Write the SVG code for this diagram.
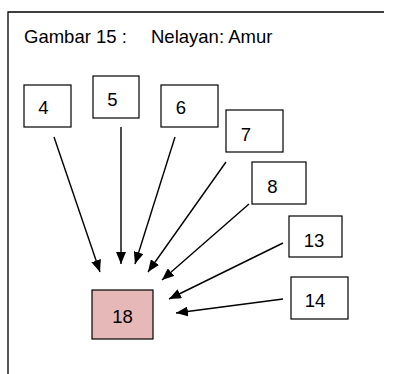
<svg xmlns="http://www.w3.org/2000/svg" width="393" height="374" viewBox="0 0 393 374">
<style>
.box{fill:#ffffff;stroke:#000000;stroke-width:1.2}
.hl{fill:#e6b8b7}
.t{font-family:"Liberation Sans",Arial,sans-serif;font-size:18.5px;fill:#000000}
.c{text-anchor:middle}
.ln{stroke:#000000;stroke-width:1.4;fill:none;marker-end:url(#ah)}
.fr{stroke:#000000;stroke-width:1.3;fill:none}
</style>
<defs>
<marker id="ah" markerUnits="userSpaceOnUse" markerWidth="12" markerHeight="10" refX="12" refY="5" orient="auto">
<path d="M0,0 L12,5 L0,10 z" fill="#000000"/>
</marker>
</defs>
<g id="frame">
<path class="fr" d="M8,374 L8,12 L384,12"/>
</g>
<g id="title">
<text class="t" x="24" y="43" font-size="20">Gambar 15 :</text>
<text class="t" x="151" y="43" font-size="20">Nelayan: Amur</text>
</g>
<g id="connectors">
<line class="ln" x1="54" y1="137" x2="100" y2="272"/>
<line class="ln" x1="121" y1="127" x2="121" y2="264"/>
<line class="ln" x1="175" y1="137" x2="135" y2="264"/>
<line class="ln" x1="226" y1="162" x2="148" y2="272"/>
<line class="ln" x1="249" y1="204" x2="162" y2="280"/>
<line class="ln" x1="283" y1="243" x2="169" y2="299"/>
<line class="ln" x1="283" y1="299" x2="176" y2="313"/>
</g>
<g id="n4"><rect class="box" x="24" y="85" width="47" height="42"/><text class="t c" x="43.5" y="114">4</text></g>
<g id="n5"><rect class="box" x="93" y="76" width="46" height="42"/><text class="t c" x="112.5" y="106">5</text></g>
<g id="n6"><rect class="box" x="161" y="85" width="57" height="42"/><text class="t c" x="181" y="114">6</text></g>
<g id="n7"><rect class="box" x="226" y="110" width="57" height="42"/><text class="t c" x="246" y="141">7</text></g>
<g id="n8"><rect class="box" x="252" y="162" width="54" height="42"/><text class="t c" x="272.5" y="193">8</text></g>
<g id="n13"><rect class="box" x="289" y="216" width="53" height="41"/><text class="t c" x="314" y="247">13</text></g>
<g id="n14"><rect class="box" x="291" y="277" width="57" height="42"/><text class="t c" x="315" y="307">14</text></g>
<g id="n18"><rect class="box hl" x="92" y="290" width="61" height="49"/><text class="t c" x="122.5" y="323">18</text></g>
</svg>
